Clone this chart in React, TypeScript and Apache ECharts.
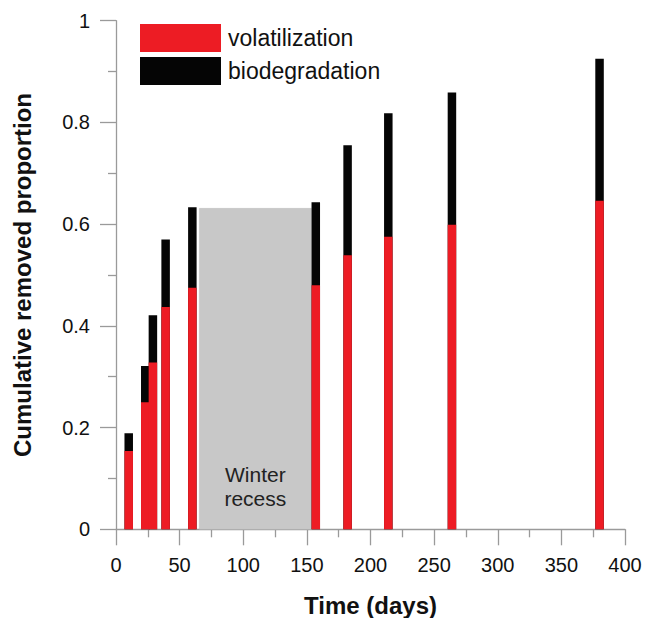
import React, { useEffect, useRef } from "react";
import * as echarts from "echarts";

const days = [10, 23, 29, 39, 60, 157, 182, 214, 264, 380];
// top of red segment (volatilization)
const volatilization = [0.154, 0.25, 0.328, 0.437, 0.475, 0.48, 0.539, 0.575, 0.599, 0.646];
// top of black segment (volatilization + biodegradation)
const totalRemoved = [0.189, 0.321, 0.421, 0.57, 0.633, 0.643, 0.755, 0.818, 0.859, 0.925];
const winterStart = 65.5;
const winterEnd = 153.5;
const winterTop = 0.631;

const FONT = "'Liberation Sans', Arial, sans-serif";
const RED = "#ed1c24";
const BLACK = "#050505";
const AXIS = "#9a9a9a";

export default function App() {
  const ref = useRef<HTMLDivElement>(null);
  useEffect(() => {
    document.body.style.margin = "0";
    const chart = echarts.init(ref.current!, null, { renderer: "svg" });
    const axisCommon = {
      axisLine: { show: true, lineStyle: { color: AXIS, width: 1.3 } },
      axisTick: { show: true, inside: false, length: 16, lineStyle: { color: AXIS, width: 1.3 } },
      minorTick: { show: true, splitNumber: 2, length: 8, lineStyle: { color: AXIS, width: 1.3 } },
      splitLine: { show: false },
      minorSplitLine: { show: false },
      axisLabel: { margin: 26, fontSize: 20, color: "#111", fontFamily: FONT },
      nameLocation: "middle" as const,
      nameTextStyle: { fontSize: 24, fontWeight: "bold" as const, color: "#111", fontFamily: FONT },
    };
    chart.setOption({
      animation: false,
      textStyle: { fontFamily: FONT },
      grid: {
        left: 116,
        right: 21,
        top: 20.7,
        bottom: 88.7,
        containLabel: false,
        outerBoundsMode: "none",
      },
      legend: {
        data: ["volatilization", "biodegradation"],
        orient: "vertical",
        left: 140,
        top: 24,
        padding: 0,
        itemWidth: 81,
        itemHeight: 28,
        itemGap: 5,
        icon: "rect",
        textStyle: { fontSize: 23, color: "#111", fontFamily: FONT, padding: [0, 0, 0, 2] },
      },
      xAxis: {
        type: "value",
        min: 0,
        max: 400,
        interval: 50,
        name: "Time (days)",
        nameGap: 64,
        ...axisCommon,
      },
      yAxis: {
        type: "value",
        min: 0,
        max: 1,
        interval: 0.2,
        name: "Cumulative removed proportion",
        nameGap: 82,
        ...axisCommon,
        axisLabel: {
          ...axisCommon.axisLabel,
          formatter: (v: number) => (v === 0 ? "0" : v === 1 ? "1" : String(Number(v.toFixed(1)))),
        },
      },
      series: [
        {
          name: "winter",
          type: "line",
          data: [],
          silent: true,
          markArea: {
            silent: true,
            itemStyle: { color: "#c8c8c8", borderColor: "#bdbdbd", borderWidth: 0.5 },
            label: {
              show: true,
              position: "insideBottom",
              distance: 19,
              formatter: "Winter\nrecess",
              fontSize: 21,
              lineHeight: 24,
              color: "#222",
              fontFamily: FONT,
            },
            data: [[{ xAxis: winterStart, yAxis: 0 }, { xAxis: winterEnd, yAxis: winterTop }]],
          },
        },
        {
          name: "biodegradation",
          type: "bar",
          barWidth: 8.5,
          barGap: "-100%",
          itemStyle: { color: BLACK },
          data: days.map((d, i) => [d, totalRemoved[i]]),
        },
        {
          name: "volatilization",
          type: "bar",
          barWidth: 8.5,
          barGap: "-100%",
          itemStyle: { color: RED },
          data: days.map((d, i) => [d, volatilization[i]]),
        },
      ],
    });
    return () => chart.dispose();
  }, []);
  return <div ref={ref} style={{ width: 646, height: 618 }} />;
}
